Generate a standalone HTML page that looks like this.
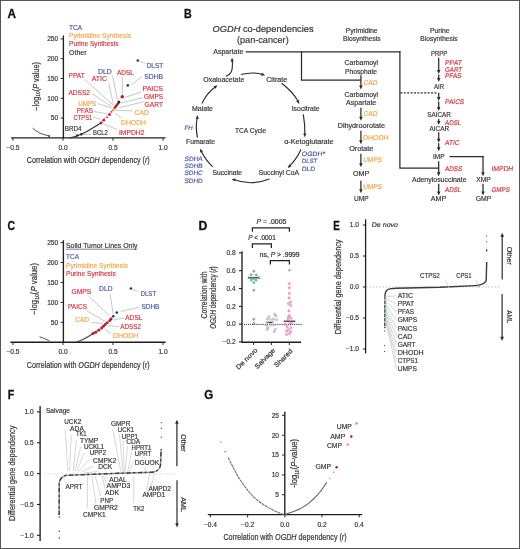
<!DOCTYPE html>
<html><head><meta charset="utf-8"><style>
html,body{margin:0;padding:0;background:#fff;}
body{width:520px;height:549px;overflow:hidden;}
svg{display:block;font-family:"Liberation Sans", sans-serif;will-change:transform;}
</style></head><body>
<svg width="520" height="549" viewBox="0 0 520 549">
<rect x="0.5" y="0.5" width="519" height="548" fill="#fff" stroke="#555" stroke-width="1"/>
<line x1="63.40" y1="35.50" x2="63.40" y2="138.50" stroke="#1e1e1e" stroke-width="1.35" />
<line x1="11.00" y1="137.90" x2="165.50" y2="137.90" stroke="#1e1e1e" stroke-width="1.4" />
<line x1="60.60" y1="118.10" x2="63.40" y2="118.10" stroke="#2b2b2b" stroke-width="1.0" />
<text x="58.20" y="120.40" font-size="6.6" fill="#333333" text-anchor="end" stroke="#333333" stroke-width="0.16">50</text>
<line x1="60.60" y1="98.30" x2="63.40" y2="98.30" stroke="#2b2b2b" stroke-width="1.0" />
<text x="58.20" y="100.60" font-size="6.6" fill="#333333" text-anchor="end" stroke="#333333" stroke-width="0.16">100</text>
<line x1="60.60" y1="78.50" x2="63.40" y2="78.50" stroke="#2b2b2b" stroke-width="1.0" />
<text x="58.20" y="80.80" font-size="6.6" fill="#333333" text-anchor="end" stroke="#333333" stroke-width="0.16">150</text>
<line x1="60.60" y1="58.70" x2="63.40" y2="58.70" stroke="#2b2b2b" stroke-width="1.0" />
<text x="58.20" y="61.00" font-size="6.6" fill="#333333" text-anchor="end" stroke="#333333" stroke-width="0.16">200</text>
<line x1="60.60" y1="38.90" x2="63.40" y2="38.90" stroke="#2b2b2b" stroke-width="1.0" />
<text x="58.20" y="41.20" font-size="6.6" fill="#333333" text-anchor="end" stroke="#333333" stroke-width="0.16">250</text>
<line x1="13.00" y1="137.90" x2="13.00" y2="140.70" stroke="#2b2b2b" stroke-width="1.0" />
<text x="13.00" y="150.20" font-size="6.6" fill="#333333" text-anchor="middle" stroke="#333333" stroke-width="0.16">−0.5</text>
<line x1="63.00" y1="137.90" x2="63.00" y2="140.70" stroke="#2b2b2b" stroke-width="1.0" />
<text x="63.00" y="150.20" font-size="6.6" fill="#333333" text-anchor="middle" stroke="#333333" stroke-width="0.16">0.0</text>
<line x1="113.00" y1="137.90" x2="113.00" y2="140.70" stroke="#2b2b2b" stroke-width="1.0" />
<text x="113.00" y="150.20" font-size="6.6" fill="#333333" text-anchor="middle" stroke="#333333" stroke-width="0.16">0.5</text>
<line x1="163.00" y1="137.90" x2="163.00" y2="140.70" stroke="#2b2b2b" stroke-width="1.0" />
<text x="163.00" y="150.20" font-size="6.6" fill="#333333" text-anchor="middle" stroke="#333333" stroke-width="0.16">1.0</text>
<text x="26.8" y="163.3" font-size="9.4" fill="#333333" textLength="122.9" lengthAdjust="spacingAndGlyphs" stroke="#333333" stroke-width="0.2">Correlation with <tspan font-style="italic">OGDH</tspan> dependency (<tspan font-style="italic">r</tspan>)</text>
<text transform="translate(38.6,110.7) rotate(-90)" font-size="8.2" fill="#333333" textLength="48.6" lengthAdjust="spacingAndGlyphs" stroke="#333333" stroke-width="0.2">−log<tspan font-size="5.5" dy="1.8">10</tspan><tspan dy="-1.8">(</tspan><tspan font-style="italic">P</tspan> value)</text>
<text transform="translate(7.51,17.70) scale(0.965,1)" font-size="12.2" font-weight="bold" fill="#111" stroke="#111" stroke-width="0.3">A</text>
<text x="69.10" y="29.60" font-size="7.2" fill="#4a56a0" textLength="13.10" lengthAdjust="spacingAndGlyphs" stroke="#4a56a0" stroke-width="0.16">TCA</text>
<text x="69.10" y="38.00" font-size="7.2" fill="#f0a544" textLength="61.90" lengthAdjust="spacingAndGlyphs" stroke="#f0a544" stroke-width="0.16">Pyrimidine Synthesis</text>
<text x="69.10" y="46.40" font-size="7.2" fill="#d2323f" textLength="49.40" lengthAdjust="spacingAndGlyphs" stroke="#d2323f" stroke-width="0.16">Purine Synthesis</text>
<text x="69.10" y="54.50" font-size="7.2" fill="#333333" textLength="17.40" lengthAdjust="spacingAndGlyphs" stroke="#333333" stroke-width="0.16">Other</text>
<path d="M32.5,128.1 Q39.4,134.3 48.8,135.7" stroke="#555" stroke-width="1.0" fill="none" />
<path d="M69,138 Q75,137.2 81.3,134.3 Q90,130 96,126 Q99,124 101.2,122.7" stroke="#333" stroke-width="1.2" fill="none" />
<path d="M101.2,122.7 L118.9,102.1" stroke="#e8a0a8" stroke-width="0.8" fill="none" />
<circle cx="49.10" cy="136.10" r="1.1" fill="#4a5080" />
<circle cx="77.20" cy="135.40" r="1.2" fill="#222" />
<circle cx="81.30" cy="134.30" r="1.2" fill="#222" />
<line x1="145.50" y1="63.50" x2="139.50" y2="61.00" stroke="#9aa3ad" stroke-width="0.6" />
<line x1="142.00" y1="76.50" x2="131.60" y2="84.70" stroke="#9aa3ad" stroke-width="0.6" />
<line x1="112.50" y1="75.40" x2="117.50" y2="100.10" stroke="#9aa3ad" stroke-width="0.6" />
<line x1="122.30" y1="77.00" x2="122.30" y2="95.00" stroke="#9aa3ad" stroke-width="0.6" />
<line x1="84.60" y1="79.50" x2="113.20" y2="105.10" stroke="#9aa3ad" stroke-width="0.6" />
<line x1="108.70" y1="83.00" x2="113.50" y2="104.50" stroke="#9aa3ad" stroke-width="0.6" />
<line x1="92.00" y1="93.80" x2="111.80" y2="106.50" stroke="#9aa3ad" stroke-width="0.6" />
<line x1="141.00" y1="92.00" x2="125.00" y2="97.40" stroke="#9aa3ad" stroke-width="0.6" />
<line x1="143.00" y1="97.60" x2="120.60" y2="103.10" stroke="#9aa3ad" stroke-width="0.6" />
<line x1="143.50" y1="101.80" x2="118.90" y2="107.80" stroke="#9aa3ad" stroke-width="0.6" />
<line x1="97.50" y1="103.60" x2="111.50" y2="107.80" stroke="#9aa3ad" stroke-width="0.6" />
<line x1="133.00" y1="111.00" x2="115.20" y2="110.20" stroke="#9aa3ad" stroke-width="0.6" />
<line x1="94.00" y1="111.50" x2="107.30" y2="113.80" stroke="#9aa3ad" stroke-width="0.6" />
<line x1="93.00" y1="116.80" x2="100.40" y2="119.60" stroke="#9aa3ad" stroke-width="0.6" />
<line x1="121.20" y1="117.70" x2="114.60" y2="113.10" stroke="#9aa3ad" stroke-width="0.6" />
<line x1="117.30" y1="129.60" x2="102.70" y2="123.50" stroke="#9aa3ad" stroke-width="0.6" />
<line x1="73.00" y1="132.00" x2="77.20" y2="135.00" stroke="#9aa3ad" stroke-width="0.6" />
<line x1="91.50" y1="134.20" x2="82.50" y2="134.30" stroke="#9aa3ad" stroke-width="0.6" />
<circle cx="101.10" cy="123.00" r="1.4" fill="#b3202e" />
<circle cx="103.80" cy="120.20" r="1.4" fill="#b3202e" />
<circle cx="107.10" cy="117.30" r="0.9" fill="#d2323f" />
<circle cx="109.50" cy="114.60" r="1.4" fill="#b3202e" />
<circle cx="111.50" cy="111.90" r="0.9" fill="#d2323f" />
<path d="M114.9,107.5 L117.9,103.8" stroke="#b3202e" stroke-width="2.6" fill="none" stroke-linecap="round"/>
<circle cx="113.20" cy="109.90" r="1.5" fill="#f0a544" />
<circle cx="118.90" cy="102.10" r="1.5" fill="#1f2048" />
<circle cx="122.30" cy="96.80" r="1.8" fill="#b3202e" />
<circle cx="127.80" cy="85.40" r="1.3" fill="#2c3470" />
<circle cx="137.80" cy="60.50" r="1.3" fill="#2c3470" />
<text x="146.70" y="67.80" font-size="6.9" fill="#4a56a0" textLength="16.50" lengthAdjust="spacingAndGlyphs" stroke="#4a56a0" stroke-width="0.16">DLST</text>
<text x="144.20" y="79.00" font-size="6.9" fill="#4a56a0" textLength="19.00" lengthAdjust="spacingAndGlyphs" stroke="#4a56a0" stroke-width="0.16">SDHB</text>
<text x="98.00" y="73.50" font-size="6.9" fill="#4a56a0" textLength="13.80" lengthAdjust="spacingAndGlyphs" stroke="#4a56a0" stroke-width="0.16">DLD</text>
<text x="117.00" y="74.60" font-size="6.9" fill="#d2323f" textLength="17.00" lengthAdjust="spacingAndGlyphs" stroke="#d2323f" stroke-width="0.16">ADSL</text>
<text x="68.50" y="77.80" font-size="6.9" fill="#d2323f" textLength="16.20" lengthAdjust="spacingAndGlyphs" stroke="#d2323f" stroke-width="0.16">PPAT</text>
<text x="91.70" y="80.90" font-size="6.9" fill="#d2323f" textLength="15.30" lengthAdjust="spacingAndGlyphs" stroke="#d2323f" stroke-width="0.16">ATIC</text>
<text x="68.50" y="95.00" font-size="6.9" fill="#d2323f" textLength="21.50" lengthAdjust="spacingAndGlyphs" stroke="#d2323f" stroke-width="0.16">ADSS2</text>
<text x="142.50" y="91.20" font-size="6.9" fill="#d2323f" textLength="20.50" lengthAdjust="spacingAndGlyphs" stroke="#d2323f" stroke-width="0.16">PAICS</text>
<text x="144.00" y="99.20" font-size="6.9" fill="#d2323f" textLength="19.00" lengthAdjust="spacingAndGlyphs" stroke="#d2323f" stroke-width="0.16">GMPS</text>
<text x="144.60" y="106.80" font-size="6.9" fill="#d2323f" textLength="18.40" lengthAdjust="spacingAndGlyphs" stroke="#d2323f" stroke-width="0.16">GART</text>
<text x="78.20" y="105.50" font-size="6.9" fill="#f0a544" textLength="18.10" lengthAdjust="spacingAndGlyphs" stroke="#f0a544" stroke-width="0.16">UMPS</text>
<text x="134.50" y="114.50" font-size="6.9" fill="#f0a544" textLength="14.30" lengthAdjust="spacingAndGlyphs" stroke="#f0a544" stroke-width="0.16">CAD</text>
<text x="76.80" y="112.80" font-size="6.9" fill="#d2323f" textLength="16.20" lengthAdjust="spacingAndGlyphs" stroke="#d2323f" stroke-width="0.16">PFAS</text>
<text x="73.50" y="119.90" font-size="6.9" fill="#d2323f" textLength="18.80" lengthAdjust="spacingAndGlyphs" stroke="#d2323f" stroke-width="0.16">CTPS1</text>
<text x="121.00" y="124.80" font-size="6.9" fill="#f0a544" textLength="25.00" lengthAdjust="spacingAndGlyphs" stroke="#f0a544" stroke-width="0.16">DHODH</text>
<text x="119.00" y="134.90" font-size="6.9" fill="#d2323f" textLength="25.40" lengthAdjust="spacingAndGlyphs" stroke="#d2323f" stroke-width="0.16">IMPDH2</text>
<text x="64.70" y="131.10" font-size="6.9" fill="#333333" textLength="16.80" lengthAdjust="spacingAndGlyphs" stroke="#333333" stroke-width="0.16">BRD4</text>
<text x="93.00" y="135.40" font-size="6.9" fill="#333333" textLength="14.80" lengthAdjust="spacingAndGlyphs" stroke="#333333" stroke-width="0.16">BCL2</text>
<text transform="translate(183.89,17.70) scale(0.873,1)" font-size="12.2" font-weight="bold" fill="#111" stroke="#111" stroke-width="0.3">B</text>
<text x="212.5" y="32.2" font-size="9.6" fill="#333333" textLength="101.1" lengthAdjust="spacingAndGlyphs" stroke="#333333" stroke-width="0.2"><tspan font-style="italic">OGDH</tspan> co-dependencies</text>
<text x="237.00" y="42.60" font-size="9.6" fill="#333333" textLength="51.70" lengthAdjust="spacingAndGlyphs" stroke="#333333" stroke-width="0.16">(pan-cancer)</text>
<text x="213.30" y="53.80" font-size="6.3" fill="#333333" textLength="30.00" lengthAdjust="spacingAndGlyphs" stroke="#333333" stroke-width="0.16">Aspartate</text>
<text x="203.30" y="82.00" font-size="6.3" fill="#333333" textLength="41.00" lengthAdjust="spacingAndGlyphs" stroke="#333333" stroke-width="0.16">Oxaloacetate</text>
<text x="266.20" y="81.90" font-size="6.3" fill="#333333" textLength="21.00" lengthAdjust="spacingAndGlyphs" stroke="#333333" stroke-width="0.16">Citrate</text>
<text x="192.00" y="110.60" font-size="6.3" fill="#333333" textLength="21.00" lengthAdjust="spacingAndGlyphs" stroke="#333333" stroke-width="0.16">Malate</text>
<text x="291.70" y="110.60" font-size="6.3" fill="#333333" textLength="28.00" lengthAdjust="spacingAndGlyphs" stroke="#333333" stroke-width="0.16">Isocitrate</text>
<text x="235.00" y="132.50" font-size="6.3" fill="#333333" textLength="31.20" lengthAdjust="spacingAndGlyphs" stroke="#333333" stroke-width="0.16">TCA Cycle</text>
<text x="186.00" y="144.20" font-size="6.3" fill="#333333" textLength="29.00" lengthAdjust="spacingAndGlyphs" stroke="#333333" stroke-width="0.16">Fumarate</text>
<text x="284.20" y="143.70" font-size="6.3" fill="#333333" textLength="49.40" lengthAdjust="spacingAndGlyphs" stroke="#333333" stroke-width="0.16">α-Ketoglutarate</text>
<text x="212.50" y="174.50" font-size="6.3" fill="#333333" textLength="29.50" lengthAdjust="spacingAndGlyphs" stroke="#333333" stroke-width="0.16">Succinate</text>
<text x="258.80" y="174.70" font-size="6.3" fill="#333333" textLength="40.20" lengthAdjust="spacingAndGlyphs" stroke="#333333" stroke-width="0.16">Succinyl CoA</text>
<text transform="translate(184.20,130.00) skewX(-8)" font-size="6.3" fill="#4a56a0" textLength="8.20" lengthAdjust="spacingAndGlyphs" stroke="#4a56a0" stroke-width="0.16">FH</text>
<text transform="translate(184.30,160.60) skewX(-8)" font-size="6.3" fill="#4a56a0" textLength="18.20" lengthAdjust="spacingAndGlyphs" stroke="#4a56a0" stroke-width="0.16">SDHA</text>
<text transform="translate(184.30,167.90) skewX(-8)" font-size="6.3" fill="#4a56a0" textLength="18.20" lengthAdjust="spacingAndGlyphs" stroke="#4a56a0" stroke-width="0.16">SDHB</text>
<text transform="translate(184.30,175.20) skewX(-8)" font-size="6.3" fill="#4a56a0" textLength="18.20" lengthAdjust="spacingAndGlyphs" stroke="#4a56a0" stroke-width="0.16">SDHC</text>
<text transform="translate(184.30,182.50) skewX(-8)" font-size="6.3" fill="#4a56a0" textLength="18.20" lengthAdjust="spacingAndGlyphs" stroke="#4a56a0" stroke-width="0.16">SDHD</text>
<text transform="translate(301.50,156.30) skewX(-8)" font-size="6.3" fill="#4a56a0" textLength="23.50" lengthAdjust="spacingAndGlyphs" stroke="#4a56a0" stroke-width="0.16">OGDH*</text>
<text transform="translate(301.50,163.40) skewX(-8)" font-size="6.3" fill="#4a56a0" textLength="15.50" lengthAdjust="spacingAndGlyphs" stroke="#4a56a0" stroke-width="0.16">DLST</text>
<text transform="translate(301.50,170.50) skewX(-8)" font-size="6.3" fill="#4a56a0" textLength="13.50" lengthAdjust="spacingAndGlyphs" stroke="#4a56a0" stroke-width="0.16">DLD</text>
<path d="M226,76.3 C231,74.5 233,71 232.3,61" stroke="#2b2b2b" stroke-width="1.15" fill="none" />
<path d="M232.00,57.80 L233.80,61.39 L230.58,61.56 Z" fill="#2b2b2b"/>
<path d="M241,74.5 Q253,71.5 262.8,74.4" stroke="#2b2b2b" stroke-width="1.15" fill="none" />
<path d="M265.20,75.30 L261.20,75.69 L262.20,72.63 Z" fill="#2b2b2b"/>
<path d="M281.6,83.3 Q293,92 298.0,101.2" stroke="#2b2b2b" stroke-width="1.15" fill="none" />
<path d="M299.20,104.00 L296.19,101.35 L299.10,99.98 Z" fill="#2b2b2b"/>
<path d="M303.3,114.3 Q305.2,125 304.8,134.5" stroke="#2b2b2b" stroke-width="1.15" fill="none" />
<path d="M304.70,137.20 L303.22,133.47 L306.44,133.58 Z" fill="#2b2b2b"/>
<path d="M301,149.5 Q296,160 289.7,165.8" stroke="#2b2b2b" stroke-width="1.15" fill="none" />
<path d="M287.70,168.00 L289.16,164.26 L291.44,166.54 Z" fill="#2b2b2b"/>
<path d="M269.4,179.0 Q251,186 234.5,179.8" stroke="#2b2b2b" stroke-width="1.15" fill="none" />
<path d="M231.70,178.90 L235.70,178.51 L234.70,181.57 Z" fill="#2b2b2b"/>
<path d="M212.7,166.9 Q205,159 201.4,151.4" stroke="#2b2b2b" stroke-width="1.15" fill="none" />
<path d="M200.20,148.60 L203.07,151.41 L200.09,152.62 Z" fill="#2b2b2b"/>
<path d="M197.5,137.7 Q195.3,127 197.2,118" stroke="#2b2b2b" stroke-width="1.15" fill="none" />
<path d="M197.50,115.10 L198.78,118.91 L195.58,118.63 Z" fill="#2b2b2b"/>
<path d="M201.9,103.4 Q207,93 215.2,87.0" stroke="#2b2b2b" stroke-width="1.15" fill="none" />
<path d="M217.50,85.20 L215.59,88.73 L213.61,86.20 Z" fill="#2b2b2b"/>
<text x="345.60" y="32.50" font-size="6.3" fill="#333333" textLength="32.10" lengthAdjust="spacingAndGlyphs" stroke="#333333" stroke-width="0.16">Pyrimidine</text>
<text x="343.00" y="40.80" font-size="6.3" fill="#333333" textLength="37.60" lengthAdjust="spacingAndGlyphs" stroke="#333333" stroke-width="0.16">Biosynthesis</text>
<text x="430.00" y="32.60" font-size="6.3" fill="#333333" textLength="19.50" lengthAdjust="spacingAndGlyphs" stroke="#333333" stroke-width="0.16">Purine</text>
<text x="420.30" y="40.70" font-size="6.3" fill="#333333" textLength="37.40" lengthAdjust="spacingAndGlyphs" stroke="#333333" stroke-width="0.16">Biosynthesis</text>
<text x="344.60" y="65.40" font-size="6.3" fill="#333333" textLength="33.40" lengthAdjust="spacingAndGlyphs" stroke="#333333" stroke-width="0.16">Carbamoyl</text>
<text x="345.00" y="73.50" font-size="6.3" fill="#333333" textLength="32.00" lengthAdjust="spacingAndGlyphs" stroke="#333333" stroke-width="0.16">Phosphate</text>
<text x="344.60" y="96.50" font-size="6.3" fill="#333333" textLength="33.40" lengthAdjust="spacingAndGlyphs" stroke="#333333" stroke-width="0.16">Carbamoyl</text>
<text x="346.00" y="105.20" font-size="6.3" fill="#333333" textLength="30.30" lengthAdjust="spacingAndGlyphs" stroke="#333333" stroke-width="0.16">Aspartate</text>
<text x="337.70" y="127.90" font-size="6.3" fill="#333333" textLength="47.30" lengthAdjust="spacingAndGlyphs" stroke="#333333" stroke-width="0.16">Dihydroorotate</text>
<text x="349.20" y="151.00" font-size="6.3" fill="#333333" textLength="24.10" lengthAdjust="spacingAndGlyphs" stroke="#333333" stroke-width="0.16">Orotate</text>
<text x="353.00" y="176.00" font-size="6.3" fill="#333333" textLength="16.40" lengthAdjust="spacingAndGlyphs" stroke="#333333" stroke-width="0.16">OMP</text>
<text x="354.00" y="201.00" font-size="6.3" fill="#333333" textLength="14.70" lengthAdjust="spacingAndGlyphs" stroke="#333333" stroke-width="0.16">UMP</text>
<text transform="translate(363.30,84.60) skewX(-8)" font-size="6.8" fill="#f0a544" textLength="14.00" lengthAdjust="spacingAndGlyphs" stroke="#f0a544" stroke-width="0.16">CAD</text>
<text transform="translate(363.30,116.30) skewX(-8)" font-size="6.8" fill="#f0a544" textLength="14.00" lengthAdjust="spacingAndGlyphs" stroke="#f0a544" stroke-width="0.16">CAD</text>
<text transform="translate(362.70,139.60) skewX(-8)" font-size="6.8" fill="#f0a544" textLength="25.60" lengthAdjust="spacingAndGlyphs" stroke="#f0a544" stroke-width="0.16">DHODH</text>
<text transform="translate(363.00,161.50) skewX(-8)" font-size="6.8" fill="#f0a544" textLength="18.50" lengthAdjust="spacingAndGlyphs" stroke="#f0a544" stroke-width="0.16">UMPS</text>
<text transform="translate(363.00,188.70) skewX(-8)" font-size="6.8" fill="#f0a544" textLength="18.50" lengthAdjust="spacingAndGlyphs" stroke="#f0a544" stroke-width="0.16">UMPS</text>
<line x1="245.70" y1="51.90" x2="400.50" y2="51.90" stroke="#2b2b2b" stroke-width="1.25" />
<line x1="399.90" y1="51.30" x2="399.90" y2="168.00" stroke="#2b2b2b" stroke-width="1.25" />
<line x1="399.30" y1="168.00" x2="438.80" y2="168.00" stroke="#2b2b2b" stroke-width="1.25" />
<line x1="301.50" y1="51.30" x2="301.50" y2="80.00" stroke="#2b2b2b" stroke-width="1.25" />
<line x1="300.90" y1="80.00" x2="361.00" y2="80.00" stroke="#2b2b2b" stroke-width="1.25" />
<line x1="360.90" y1="76.00" x2="360.90" y2="86.90" stroke="#2b2b2b" stroke-width="1.25" />
<path d="M360.90,89.40 L359.15,85.40 L362.65,85.40 Z" fill="#2b2b2b"/>
<line x1="360.90" y1="107.70" x2="360.90" y2="118.30" stroke="#2b2b2b" stroke-width="1.25" />
<path d="M360.90,120.80 L359.15,116.80 L362.65,116.80 Z" fill="#2b2b2b"/>
<line x1="360.90" y1="130.80" x2="360.90" y2="141.70" stroke="#2b2b2b" stroke-width="1.25" />
<path d="M360.90,144.20 L359.15,140.20 L362.65,140.20 Z" fill="#2b2b2b"/>
<line x1="360.90" y1="153.80" x2="360.90" y2="164.80" stroke="#2b2b2b" stroke-width="1.25" />
<path d="M360.90,167.30 L359.15,163.30 L362.65,163.30 Z" fill="#2b2b2b"/>
<line x1="360.90" y1="180.80" x2="360.90" y2="190.80" stroke="#2b2b2b" stroke-width="1.25" />
<path d="M360.90,193.30 L359.15,189.30 L362.65,189.30 Z" fill="#2b2b2b"/>
<line x1="400.40" y1="92.90" x2="437.60" y2="92.90" stroke="#2b2b2b" stroke-width="1.2" stroke-dasharray="2,1.4"/>
<text x="430.90" y="55.60" font-size="6.3" fill="#333333" textLength="16.30" lengthAdjust="spacingAndGlyphs" stroke="#333333" stroke-width="0.16">PRPP</text>
<text x="434.00" y="88.70" font-size="6.3" fill="#333333" textLength="10.00" lengthAdjust="spacingAndGlyphs" stroke="#333333" stroke-width="0.16">AIR</text>
<text x="427.20" y="117.30" font-size="6.3" fill="#333333" textLength="23.60" lengthAdjust="spacingAndGlyphs" stroke="#333333" stroke-width="0.16">SAICAR</text>
<text x="429.50" y="131.20" font-size="6.3" fill="#333333" textLength="19.50" lengthAdjust="spacingAndGlyphs" stroke="#333333" stroke-width="0.16">AICAR</text>
<text x="433.00" y="158.80" font-size="6.3" fill="#333333" textLength="11.50" lengthAdjust="spacingAndGlyphs" stroke="#333333" stroke-width="0.16">IMP</text>
<text x="412.00" y="182.00" font-size="6.3" fill="#333333" textLength="54.50" lengthAdjust="spacingAndGlyphs" stroke="#333333" stroke-width="0.16">Adenylosuccinate</text>
<text x="476.20" y="182.00" font-size="6.3" fill="#333333" textLength="14.50" lengthAdjust="spacingAndGlyphs" stroke="#333333" stroke-width="0.16">XMP</text>
<text x="430.70" y="200.50" font-size="6.3" fill="#333333" textLength="15.50" lengthAdjust="spacingAndGlyphs" stroke="#333333" stroke-width="0.16">AMP</text>
<text x="475.70" y="200.50" font-size="6.3" fill="#333333" textLength="15.50" lengthAdjust="spacingAndGlyphs" stroke="#333333" stroke-width="0.16">GMP</text>
<text transform="translate(444.80,64.80) skewX(-8)" font-size="6.8" fill="#d2323f" textLength="16.90" lengthAdjust="spacingAndGlyphs" stroke="#d2323f" stroke-width="0.16">PPAT</text>
<text transform="translate(444.80,71.60) skewX(-8)" font-size="6.8" fill="#d2323f" textLength="16.90" lengthAdjust="spacingAndGlyphs" stroke="#d2323f" stroke-width="0.16">GART</text>
<text transform="translate(444.80,78.40) skewX(-8)" font-size="6.8" fill="#d2323f" textLength="16.40" lengthAdjust="spacingAndGlyphs" stroke="#d2323f" stroke-width="0.16">PFAS</text>
<text transform="translate(444.80,104.20) skewX(-8)" font-size="6.8" fill="#d2323f" textLength="19.20" lengthAdjust="spacingAndGlyphs" stroke="#d2323f" stroke-width="0.16">PAICS</text>
<text transform="translate(444.80,124.70) skewX(-8)" font-size="6.8" fill="#d2323f" textLength="16.20" lengthAdjust="spacingAndGlyphs" stroke="#d2323f" stroke-width="0.16">ADSL</text>
<text transform="translate(444.80,144.90) skewX(-8)" font-size="6.8" fill="#d2323f" textLength="14.50" lengthAdjust="spacingAndGlyphs" stroke="#d2323f" stroke-width="0.16">ATIC</text>
<text transform="translate(444.80,170.90) skewX(-8)" font-size="6.8" fill="#d2323f" textLength="17.30" lengthAdjust="spacingAndGlyphs" stroke="#d2323f" stroke-width="0.16">ADSS</text>
<text transform="translate(444.80,191.70) skewX(-8)" font-size="6.8" fill="#d2323f" textLength="16.20" lengthAdjust="spacingAndGlyphs" stroke="#d2323f" stroke-width="0.16">ADSL</text>
<text transform="translate(491.20,170.90) skewX(-8)" font-size="6.8" fill="#d2323f" textLength="21.80" lengthAdjust="spacingAndGlyphs" stroke="#d2323f" stroke-width="0.16">IMPDH</text>
<text transform="translate(491.20,191.70) skewX(-8)" font-size="6.8" fill="#d2323f" textLength="18.40" lengthAdjust="spacingAndGlyphs" stroke="#d2323f" stroke-width="0.16">GMPS</text>
<line x1="438.70" y1="57.80" x2="438.70" y2="71.40" stroke="#2b2b2b" stroke-width="1.25" />
<path d="M438.70,73.90 L436.95,69.90 L440.45,69.90 Z" fill="#2b2b2b"/>
<line x1="438.70" y1="74.50" x2="438.70" y2="79.50" stroke="#2b2b2b" stroke-width="1.25" />
<path d="M438.70,82.00 L436.95,78.00 L440.45,78.00 Z" fill="#2b2b2b"/>
<line x1="438.70" y1="92.80" x2="438.70" y2="98.40" stroke="#2b2b2b" stroke-width="1.25" />
<path d="M438.70,100.90 L436.95,96.90 L440.45,96.90 Z" fill="#2b2b2b"/>
<line x1="438.70" y1="101.50" x2="438.70" y2="108.50" stroke="#2b2b2b" stroke-width="1.25" />
<path d="M438.70,111.00 L436.95,107.00 L440.45,107.00 Z" fill="#2b2b2b"/>
<line x1="438.70" y1="118.90" x2="438.70" y2="122.40" stroke="#2b2b2b" stroke-width="1.25" />
<path d="M438.70,124.90 L436.95,120.90 L440.45,120.90 Z" fill="#2b2b2b"/>
<line x1="438.70" y1="132.30" x2="438.70" y2="140.20" stroke="#2b2b2b" stroke-width="1.25" />
<path d="M438.70,142.70 L436.95,138.70 L440.45,138.70 Z" fill="#2b2b2b"/>
<line x1="438.70" y1="143.20" x2="438.70" y2="148.70" stroke="#2b2b2b" stroke-width="1.25" />
<path d="M438.70,151.20 L436.95,147.20 L440.45,147.20 Z" fill="#2b2b2b"/>
<line x1="438.70" y1="161.20" x2="438.70" y2="173.70" stroke="#2b2b2b" stroke-width="1.25" />
<path d="M438.70,176.20 L436.95,172.20 L440.45,172.20 Z" fill="#2b2b2b"/>
<line x1="438.70" y1="183.80" x2="438.70" y2="193.10" stroke="#2b2b2b" stroke-width="1.25" />
<path d="M438.70,195.60 L436.95,191.60 L440.45,191.60 Z" fill="#2b2b2b"/>
<line x1="449.60" y1="156.50" x2="483.60" y2="156.50" stroke="#2b2b2b" stroke-width="1.25" />
<line x1="483.00" y1="155.90" x2="483.00" y2="173.70" stroke="#2b2b2b" stroke-width="1.25" />
<path d="M483.00,176.20 L481.25,172.20 L484.75,172.20 Z" fill="#2b2b2b"/>
<line x1="483.00" y1="183.80" x2="483.00" y2="193.10" stroke="#2b2b2b" stroke-width="1.25" />
<path d="M483.00,195.60 L481.25,191.60 L484.75,191.60 Z" fill="#2b2b2b"/>
<text transform="translate(7.57,229.60) scale(0.865,1)" font-size="12.2" font-weight="bold" fill="#111" stroke="#111" stroke-width="0.3">C</text>
<line x1="63.40" y1="240.20" x2="63.40" y2="342.80" stroke="#1e1e1e" stroke-width="1.35" />
<line x1="10.50" y1="342.20" x2="165.50" y2="342.20" stroke="#1e1e1e" stroke-width="1.4" />
<line x1="60.60" y1="322.29" x2="63.40" y2="322.29" stroke="#2b2b2b" stroke-width="1.0" />
<text x="58.20" y="324.59" font-size="6.6" fill="#333333" text-anchor="end" stroke="#333333" stroke-width="0.16">50</text>
<line x1="60.60" y1="302.38" x2="63.40" y2="302.38" stroke="#2b2b2b" stroke-width="1.0" />
<text x="58.20" y="304.68" font-size="6.6" fill="#333333" text-anchor="end" stroke="#333333" stroke-width="0.16">100</text>
<line x1="60.60" y1="282.47" x2="63.40" y2="282.47" stroke="#2b2b2b" stroke-width="1.0" />
<text x="58.20" y="284.77" font-size="6.6" fill="#333333" text-anchor="end" stroke="#333333" stroke-width="0.16">150</text>
<line x1="60.60" y1="262.56" x2="63.40" y2="262.56" stroke="#2b2b2b" stroke-width="1.0" />
<text x="58.20" y="264.86" font-size="6.6" fill="#333333" text-anchor="end" stroke="#333333" stroke-width="0.16">200</text>
<line x1="60.60" y1="242.65" x2="63.40" y2="242.65" stroke="#2b2b2b" stroke-width="1.0" />
<text x="58.20" y="244.95" font-size="6.6" fill="#333333" text-anchor="end" stroke="#333333" stroke-width="0.16">250</text>
<line x1="13.00" y1="342.20" x2="13.00" y2="345.00" stroke="#2b2b2b" stroke-width="1.0" />
<text x="13.00" y="354.20" font-size="6.6" fill="#333333" text-anchor="middle" stroke="#333333" stroke-width="0.16">−0.5</text>
<line x1="63.00" y1="342.20" x2="63.00" y2="345.00" stroke="#2b2b2b" stroke-width="1.0" />
<text x="63.00" y="354.20" font-size="6.6" fill="#333333" text-anchor="middle" stroke="#333333" stroke-width="0.16">0.0</text>
<line x1="113.00" y1="342.20" x2="113.00" y2="345.00" stroke="#2b2b2b" stroke-width="1.0" />
<text x="113.00" y="354.20" font-size="6.6" fill="#333333" text-anchor="middle" stroke="#333333" stroke-width="0.16">0.5</text>
<line x1="163.00" y1="342.20" x2="163.00" y2="345.00" stroke="#2b2b2b" stroke-width="1.0" />
<text x="163.00" y="354.20" font-size="6.6" fill="#333333" text-anchor="middle" stroke="#333333" stroke-width="0.16">1.0</text>
<text x="26.8" y="367.7" font-size="9.4" fill="#333333" textLength="122.9" lengthAdjust="spacingAndGlyphs" stroke="#333333" stroke-width="0.2">Correlation with <tspan font-style="italic">OGDH</tspan> dependency (r)</text>
<text transform="translate(37.4,314.8) rotate(-90)" font-size="8.4" fill="#333333" textLength="51.8" lengthAdjust="spacingAndGlyphs" stroke="#333333" stroke-width="0.2">−log<tspan font-size="5.5" dy="1.8">10</tspan><tspan dy="-1.8">(</tspan><tspan font-style="italic">P</tspan> value)</text>
<text x="66.00" y="248.00" font-size="7.2" fill="#333333" textLength="71.40" lengthAdjust="spacingAndGlyphs" stroke="#333333" stroke-width="0.16">Solid Tumor Lines Only</text>
<line x1="66.00" y1="249.20" x2="137.40" y2="249.20" stroke="#333333" stroke-width="0.6" />
<text x="66.00" y="259.40" font-size="7.2" fill="#4a56a0" textLength="13.00" lengthAdjust="spacingAndGlyphs" stroke="#4a56a0" stroke-width="0.16">TCA</text>
<text x="66.00" y="268.00" font-size="7.2" fill="#f0a544" textLength="62.00" lengthAdjust="spacingAndGlyphs" stroke="#f0a544" stroke-width="0.16">Pyrimidine Synthesis</text>
<text x="66.00" y="276.30" font-size="7.2" fill="#d2323f" textLength="49.70" lengthAdjust="spacingAndGlyphs" stroke="#d2323f" stroke-width="0.16">Purine Synthesis</text>
<path d="M39.5,336.8 Q45,338.5 49.3,340.8" stroke="#555" stroke-width="1.0" fill="none" />
<path d="M76,342.2 Q84,340 93,333.6 L99,330.1" stroke="#444" stroke-width="1.2" fill="none" />
<line x1="137.50" y1="291.80" x2="132.60" y2="289.00" stroke="#9aa3ad" stroke-width="0.6" />
<line x1="139.30" y1="307.20" x2="120.70" y2="311.50" stroke="#9aa3ad" stroke-width="0.6" />
<line x1="110.10" y1="293.80" x2="113.20" y2="314.50" stroke="#9aa3ad" stroke-width="0.6" />
<line x1="88.50" y1="296.00" x2="109.00" y2="315.40" stroke="#9aa3ad" stroke-width="0.6" />
<line x1="86.50" y1="310.60" x2="105.10" y2="321.40" stroke="#9aa3ad" stroke-width="0.6" />
<line x1="91.50" y1="322.60" x2="102.90" y2="323.30" stroke="#9aa3ad" stroke-width="0.6" />
<line x1="124.50" y1="317.80" x2="113.70" y2="320.10" stroke="#9aa3ad" stroke-width="0.6" />
<line x1="119.00" y1="326.60" x2="108.50" y2="325.80" stroke="#9aa3ad" stroke-width="0.6" />
<line x1="110.70" y1="333.50" x2="105.10" y2="329.20" stroke="#9aa3ad" stroke-width="0.6" />
<circle cx="93.00" cy="333.60" r="1.5" fill="#b3202e" />
<circle cx="95.60" cy="332.20" r="1.5" fill="#b3202e" />
<circle cx="99.00" cy="329.90" r="1.5" fill="#b3202e" />
<circle cx="101.60" cy="327.90" r="1.5" fill="#b3202e" />
<circle cx="103.40" cy="326.20" r="1.5" fill="#b3202e" />
<circle cx="105.10" cy="324.50" r="1.5" fill="#b3202e" />
<circle cx="107.20" cy="322.70" r="1.5" fill="#b3202e" />
<circle cx="109.80" cy="320.60" r="1.5" fill="#b3202e" />
<circle cx="111.10" cy="318.80" r="1.5" fill="#b3202e" />
<circle cx="113.30" cy="316.20" r="1.3" fill="#2c3470" />
<circle cx="116.80" cy="312.60" r="1.3" fill="#2c3470" />
<circle cx="130.90" cy="288.50" r="1.3" fill="#2c3470" />
<text x="140.40" y="295.90" font-size="6.9" fill="#4a56a0" textLength="15.90" lengthAdjust="spacingAndGlyphs" stroke="#4a56a0" stroke-width="0.16">DLST</text>
<text x="141.40" y="309.20" font-size="6.9" fill="#4a56a0" textLength="18.00" lengthAdjust="spacingAndGlyphs" stroke="#4a56a0" stroke-width="0.16">SDHB</text>
<text x="99.10" y="291.00" font-size="6.9" fill="#4a56a0" textLength="13.40" lengthAdjust="spacingAndGlyphs" stroke="#4a56a0" stroke-width="0.16">DLD</text>
<text x="71.60" y="293.80" font-size="6.9" fill="#d2323f" textLength="19.70" lengthAdjust="spacingAndGlyphs" stroke="#d2323f" stroke-width="0.16">GMPS</text>
<text x="68.00" y="308.60" font-size="6.9" fill="#d2323f" textLength="19.10" lengthAdjust="spacingAndGlyphs" stroke="#d2323f" stroke-width="0.16">PAICS</text>
<text x="75.20" y="322.30" font-size="6.9" fill="#f0a544" textLength="13.80" lengthAdjust="spacingAndGlyphs" stroke="#f0a544" stroke-width="0.16">CAD</text>
<text x="125.20" y="320.20" font-size="6.9" fill="#d2323f" textLength="17.30" lengthAdjust="spacingAndGlyphs" stroke="#d2323f" stroke-width="0.16">ADSL</text>
<text x="120.30" y="328.70" font-size="6.9" fill="#d2323f" textLength="20.70" lengthAdjust="spacingAndGlyphs" stroke="#d2323f" stroke-width="0.16">ADSS2</text>
<text x="112.90" y="338.20" font-size="6.9" fill="#f0a544" textLength="25.40" lengthAdjust="spacingAndGlyphs" stroke="#f0a544" stroke-width="0.16">DHODH</text>
<text transform="translate(198.58,229.60) scale(1.003,1)" font-size="12.2" font-weight="bold" fill="#111" stroke="#111" stroke-width="0.3">D</text>
<line x1="242.00" y1="251.30" x2="242.00" y2="342.60" stroke="#1e1e1e" stroke-width="1.35" />
<line x1="241.40" y1="342.20" x2="301.00" y2="342.20" stroke="#1e1e1e" stroke-width="1.4" />
<line x1="238.90" y1="252.90" x2="242.00" y2="252.90" stroke="#1e1e1e" stroke-width="1.1" />
<text x="235.60" y="255.20" font-size="6.6" fill="#333333" text-anchor="end" stroke="#333333" stroke-width="0.16">0.8</text>
<line x1="238.90" y1="270.70" x2="242.00" y2="270.70" stroke="#1e1e1e" stroke-width="1.1" />
<text x="235.60" y="273.00" font-size="6.6" fill="#333333" text-anchor="end" stroke="#333333" stroke-width="0.16">0.6</text>
<line x1="238.90" y1="288.50" x2="242.00" y2="288.50" stroke="#1e1e1e" stroke-width="1.1" />
<text x="235.60" y="290.80" font-size="6.6" fill="#333333" text-anchor="end" stroke="#333333" stroke-width="0.16">0.4</text>
<line x1="238.90" y1="306.30" x2="242.00" y2="306.30" stroke="#1e1e1e" stroke-width="1.1" />
<text x="235.60" y="308.60" font-size="6.6" fill="#333333" text-anchor="end" stroke="#333333" stroke-width="0.16">0.2</text>
<line x1="238.90" y1="324.10" x2="242.00" y2="324.10" stroke="#1e1e1e" stroke-width="1.1" />
<text x="235.60" y="326.40" font-size="6.6" fill="#333333" text-anchor="end" stroke="#333333" stroke-width="0.16">0.0</text>
<line x1="238.90" y1="341.90" x2="242.00" y2="341.90" stroke="#1e1e1e" stroke-width="1.1" />
<text x="235.60" y="344.20" font-size="6.6" fill="#333333" text-anchor="end" stroke="#333333" stroke-width="0.16">−0.2</text>
<line x1="253.60" y1="342.20" x2="253.60" y2="345.00" stroke="#2b2b2b" stroke-width="1.0" />
<line x1="271.40" y1="342.20" x2="271.40" y2="345.00" stroke="#2b2b2b" stroke-width="1.0" />
<line x1="289.30" y1="342.20" x2="289.30" y2="345.00" stroke="#2b2b2b" stroke-width="1.0" />
<line x1="243.80" y1="324.40" x2="302.00" y2="324.40" stroke="#111" stroke-width="1.0" stroke-dasharray="1.0,1.1"/>
<text transform="translate(206.6,318.4) rotate(-90)" font-size="9.0" fill="#333333" textLength="46.8" lengthAdjust="spacingAndGlyphs" stroke="#333333" stroke-width="0.2">Correlation with</text>
<text transform="translate(215.6,328.7) rotate(-90)" font-size="9.0" fill="#333333" textLength="62.3" lengthAdjust="spacingAndGlyphs" stroke="#333333" stroke-width="0.2"><tspan font-style="italic">OGDH</tspan> dependency (<tspan font-style="italic">r</tspan>)</text>
<text transform="translate(238.5,370.0) rotate(-45)" font-size="6.6" fill="#333333" textLength="27.5" lengthAdjust="spacingAndGlyphs" stroke="#333333" stroke-width="0.2">De novo</text>
<text transform="translate(257.3,369.2) rotate(-45)" font-size="6.6" fill="#333333" textLength="26.0" lengthAdjust="spacingAndGlyphs" stroke="#333333" stroke-width="0.2">Salvage</text>
<text transform="translate(276.8,367.8) rotate(-45)" font-size="6.6" fill="#333333" textLength="23.0" lengthAdjust="spacingAndGlyphs" stroke="#333333" stroke-width="0.2">Shared</text>
<path d="M252.4,231.8 V227.9 H289.4 V231.8" stroke="#222" stroke-width="1.25" fill="none" />
<path d="M252.4,248.0 V243.9 H271.4 V248.0" stroke="#222" stroke-width="1.25" fill="none" />
<path d="M270.4,264.6 V260.6 H289.4 V264.6" stroke="#222" stroke-width="1.25" fill="none" />
<text x="256.6" y="224.4" font-size="6.6" fill="#333333" textLength="29.7" lengthAdjust="spacingAndGlyphs" stroke="#333333" stroke-width="0.2"><tspan font-style="italic">P</tspan> = .0005</text>
<text x="248.2" y="240.0" font-size="6.6" fill="#333333" textLength="27.5" lengthAdjust="spacingAndGlyphs" stroke="#333333" stroke-width="0.2"><tspan font-style="italic">P</tspan> &lt; .0001</text>
<text x="259.8" y="256.9" font-size="6.6" fill="#333333" textLength="39.8" lengthAdjust="spacingAndGlyphs" stroke="#333333" stroke-width="0.2">ns, <tspan font-style="italic">P</tspan> &gt; .9999</text>
<line x1="248.00" y1="277.80" x2="259.70" y2="277.80" stroke="#111" stroke-width="1.1" />
<line x1="266.20" y1="322.40" x2="272.80" y2="322.40" stroke="#111" stroke-width="1.1" />
<line x1="283.70" y1="321.20" x2="295.30" y2="321.20" stroke="#111" stroke-width="1.1" />
<circle cx="253.80" cy="271.20" r="1.05" fill="#7fbfa8" stroke="#3f8f78" stroke-width="0.55" fill-opacity="0.8"/>
<circle cx="251.20" cy="274.70" r="1.05" fill="#7fbfa8" stroke="#3f8f78" stroke-width="0.55" fill-opacity="0.8"/>
<circle cx="256.30" cy="275.00" r="1.05" fill="#7fbfa8" stroke="#3f8f78" stroke-width="0.55" fill-opacity="0.8"/>
<circle cx="249.00" cy="277.60" r="1.05" fill="#7fbfa8" stroke="#3f8f78" stroke-width="0.55" fill-opacity="0.8"/>
<circle cx="258.60" cy="277.60" r="1.05" fill="#7fbfa8" stroke="#3f8f78" stroke-width="0.55" fill-opacity="0.8"/>
<circle cx="253.80" cy="278.60" r="1.05" fill="#7fbfa8" stroke="#3f8f78" stroke-width="0.55" fill-opacity="0.8"/>
<circle cx="256.10" cy="280.20" r="1.05" fill="#7fbfa8" stroke="#3f8f78" stroke-width="0.55" fill-opacity="0.8"/>
<circle cx="251.40" cy="280.00" r="1.05" fill="#7fbfa8" stroke="#3f8f78" stroke-width="0.55" fill-opacity="0.8"/>
<circle cx="253.80" cy="282.60" r="1.05" fill="#7fbfa8" stroke="#3f8f78" stroke-width="0.55" fill-opacity="0.8"/>
<circle cx="253.80" cy="290.30" r="1.05" fill="#7fbfa8" stroke="#3f8f78" stroke-width="0.55" fill-opacity="0.8"/>
<circle cx="253.80" cy="319.30" r="1.05" fill="#7fbfa8" stroke="#3f8f78" stroke-width="0.55" fill-opacity="0.8"/>
<circle cx="253.80" cy="323.50" r="1.05" fill="#7fbfa8" stroke="#3f8f78" stroke-width="0.55" fill-opacity="0.8"/>
<circle cx="274.60" cy="314.30" r="1.05" fill="#d8d8d8" stroke="#999" stroke-width="0.55" fill-opacity="0.8"/>
<circle cx="276.10" cy="315.90" r="1.05" fill="#d8d8d8" stroke="#999" stroke-width="0.55" fill-opacity="0.8"/>
<circle cx="268.90" cy="316.60" r="1.05" fill="#d8d8d8" stroke="#999" stroke-width="0.55" fill-opacity="0.8"/>
<circle cx="267.40" cy="318.90" r="1.05" fill="#d8d8d8" stroke="#999" stroke-width="0.55" fill-opacity="0.8"/>
<circle cx="273.50" cy="318.90" r="1.05" fill="#d8d8d8" stroke="#999" stroke-width="0.55" fill-opacity="0.8"/>
<circle cx="276.50" cy="319.70" r="1.05" fill="#d8d8d8" stroke="#999" stroke-width="0.55" fill-opacity="0.8"/>
<circle cx="267.40" cy="322.40" r="1.05" fill="#d8d8d8" stroke="#999" stroke-width="0.55" fill-opacity="0.8"/>
<circle cx="272.70" cy="322.00" r="1.05" fill="#d8d8d8" stroke="#999" stroke-width="0.55" fill-opacity="0.8"/>
<circle cx="266.60" cy="325.40" r="1.05" fill="#d8d8d8" stroke="#999" stroke-width="0.55" fill-opacity="0.8"/>
<circle cx="270.40" cy="324.70" r="1.05" fill="#d8d8d8" stroke="#999" stroke-width="0.55" fill-opacity="0.8"/>
<circle cx="273.50" cy="325.00" r="1.05" fill="#d8d8d8" stroke="#999" stroke-width="0.55" fill-opacity="0.8"/>
<circle cx="268.10" cy="327.70" r="1.05" fill="#d8d8d8" stroke="#999" stroke-width="0.55" fill-opacity="0.8"/>
<circle cx="275.40" cy="329.30" r="1.05" fill="#d8d8d8" stroke="#999" stroke-width="0.55" fill-opacity="0.8"/>
<circle cx="267.00" cy="329.60" r="1.05" fill="#d8d8d8" stroke="#999" stroke-width="0.55" fill-opacity="0.8"/>
<circle cx="274.20" cy="331.60" r="1.05" fill="#d8d8d8" stroke="#999" stroke-width="0.55" fill-opacity="0.8"/>
<circle cx="270.50" cy="319.50" r="1.05" fill="#d8d8d8" stroke="#999" stroke-width="0.55" fill-opacity="0.8"/>
<circle cx="289.40" cy="270.20" r="1.05" fill="#f2a6c8" stroke="#e0609a" stroke-width="0.55" fill-opacity="0.8"/>
<circle cx="289.40" cy="283.70" r="1.05" fill="#f2a6c8" stroke="#e0609a" stroke-width="0.55" fill-opacity="0.8"/>
<circle cx="289.40" cy="287.70" r="1.05" fill="#f2a6c8" stroke="#e0609a" stroke-width="0.55" fill-opacity="0.8"/>
<circle cx="289.40" cy="293.50" r="1.05" fill="#f2a6c8" stroke="#e0609a" stroke-width="0.55" fill-opacity="0.8"/>
<circle cx="289.10" cy="297.90" r="1.05" fill="#f2a6c8" stroke="#e0609a" stroke-width="0.55" fill-opacity="0.8"/>
<circle cx="288.40" cy="303.60" r="1.05" fill="#f2a6c8" stroke="#e0609a" stroke-width="0.55" fill-opacity="0.8"/>
<circle cx="290.70" cy="302.10" r="1.05" fill="#f2a6c8" stroke="#e0609a" stroke-width="0.55" fill-opacity="0.8"/>
<circle cx="290.70" cy="305.60" r="1.05" fill="#f2a6c8" stroke="#e0609a" stroke-width="0.55" fill-opacity="0.8"/>
<circle cx="288.80" cy="310.90" r="1.05" fill="#f2a6c8" stroke="#e0609a" stroke-width="0.55" fill-opacity="0.8"/>
<circle cx="289.50" cy="315.50" r="1.05" fill="#f2a6c8" stroke="#e0609a" stroke-width="0.55" fill-opacity="0.8"/>
<circle cx="288.40" cy="317.00" r="1.05" fill="#f2a6c8" stroke="#e0609a" stroke-width="0.55" fill-opacity="0.8"/>
<circle cx="291.00" cy="318.20" r="1.05" fill="#f2a6c8" stroke="#e0609a" stroke-width="0.55" fill-opacity="0.8"/>
<circle cx="288.00" cy="319.70" r="1.05" fill="#f2a6c8" stroke="#e0609a" stroke-width="0.55" fill-opacity="0.8"/>
<circle cx="284.90" cy="324.30" r="1.05" fill="#f2a6c8" stroke="#e0609a" stroke-width="0.55" fill-opacity="0.8"/>
<circle cx="292.20" cy="323.90" r="1.05" fill="#f2a6c8" stroke="#e0609a" stroke-width="0.55" fill-opacity="0.8"/>
<circle cx="287.20" cy="326.60" r="1.05" fill="#f2a6c8" stroke="#e0609a" stroke-width="0.55" fill-opacity="0.8"/>
<circle cx="291.00" cy="327.70" r="1.05" fill="#f2a6c8" stroke="#e0609a" stroke-width="0.55" fill-opacity="0.8"/>
<circle cx="288.40" cy="329.60" r="1.05" fill="#f2a6c8" stroke="#e0609a" stroke-width="0.55" fill-opacity="0.8"/>
<circle cx="286.50" cy="331.20" r="1.05" fill="#f2a6c8" stroke="#e0609a" stroke-width="0.55" fill-opacity="0.8"/>
<circle cx="290.70" cy="331.60" r="1.05" fill="#f2a6c8" stroke="#e0609a" stroke-width="0.55" fill-opacity="0.8"/>
<circle cx="286.50" cy="334.60" r="1.05" fill="#f2a6c8" stroke="#e0609a" stroke-width="0.55" fill-opacity="0.8"/>
<circle cx="289.50" cy="333.50" r="1.05" fill="#f2a6c8" stroke="#e0609a" stroke-width="0.55" fill-opacity="0.8"/>
<circle cx="290.00" cy="322.50" r="1.05" fill="#f2a6c8" stroke="#e0609a" stroke-width="0.55" fill-opacity="0.8"/>
<text transform="translate(333.34,229.80) scale(0.804,1)" font-size="12.2" font-weight="bold" fill="#111" stroke="#111" stroke-width="0.3">E</text>
<line x1="365.60" y1="219.30" x2="365.60" y2="353.30" stroke="#1e1e1e" stroke-width="1.3" />
<line x1="362.80" y1="225.00" x2="365.60" y2="225.00" stroke="#222" stroke-width="1.0" />
<text x="359.00" y="227.30" font-size="6.6" fill="#333333" text-anchor="end" stroke="#333333" stroke-width="0.16">1.0</text>
<line x1="362.80" y1="256.00" x2="365.60" y2="256.00" stroke="#222" stroke-width="1.0" />
<text x="359.00" y="258.30" font-size="6.6" fill="#333333" text-anchor="end" stroke="#333333" stroke-width="0.16">0.5</text>
<line x1="362.80" y1="287.00" x2="365.60" y2="287.00" stroke="#222" stroke-width="1.0" />
<text x="359.00" y="289.30" font-size="6.6" fill="#333333" text-anchor="end" stroke="#333333" stroke-width="0.16">0.0</text>
<line x1="362.80" y1="318.00" x2="365.60" y2="318.00" stroke="#222" stroke-width="1.0" />
<text x="359.00" y="320.30" font-size="6.6" fill="#333333" text-anchor="end" stroke="#333333" stroke-width="0.16">−0.5</text>
<line x1="362.80" y1="349.00" x2="365.60" y2="349.00" stroke="#222" stroke-width="1.0" />
<text x="359.00" y="351.30" font-size="6.6" fill="#333333" text-anchor="end" stroke="#333333" stroke-width="0.16">−1.0</text>
<text transform="translate(371.50,226.80) skewX(-8)" font-size="6.7" fill="#333333" textLength="26.30" lengthAdjust="spacingAndGlyphs" stroke="#333333" stroke-width="0.16">De novo</text>
<text transform="translate(341.0,334.3) rotate(-90)" font-size="8.8" fill="#333333" textLength="94.8" lengthAdjust="spacingAndGlyphs" stroke="#333333" stroke-width="0.2">Differential gene dependency</text>
<line x1="366.50" y1="286.90" x2="500.50" y2="286.90" stroke="#b8b8b8" stroke-width="0.8" stroke-dasharray="1.6,1.6"/>
<path d="M384.8,328.3 L385.0,295.0 Q385.6,289.6 389.5,288.9 L396,288.3 L440,287.3 L475,285.6 Q484.5,285 486.2,280.5 L486.7,262" stroke="#353a48" stroke-width="1.4" fill="none" />
<path d="M386.0,296 L386.0,326" stroke="#9adccc" stroke-width="0.8" fill="none" />
<path d="M384.8,296 L384.8,328.3" stroke="#ffffff" stroke-width="1.6" fill="none" stroke-dasharray="0,3.6,0.8,0"/>
<circle cx="384.60" cy="330.80" r="0.6" fill="#333" />
<circle cx="384.60" cy="345.60" r="0.6" fill="#333" />
<circle cx="384.60" cy="351.30" r="0.6" fill="#333" />
<circle cx="486.70" cy="236.10" r="0.65" fill="#444" />
<circle cx="486.70" cy="241.80" r="0.65" fill="#444" />
<line x1="486.70" y1="248.90" x2="486.70" y2="251.80" stroke="#444" stroke-width="1.1" />
<text x="397.70" y="298.10" font-size="6.8" fill="#333333" textLength="15.20" lengthAdjust="spacingAndGlyphs" stroke="#333333" stroke-width="0.16">ATIC</text>
<line x1="396.50" y1="295.90" x2="387.50" y2="296.50" stroke="#b0a8b0" stroke-width="0.5" />
<text x="397.70" y="306.20" font-size="6.8" fill="#333333" textLength="16.40" lengthAdjust="spacingAndGlyphs" stroke="#333333" stroke-width="0.16">PPAT</text>
<line x1="396.50" y1="304.00" x2="386.00" y2="299.00" stroke="#b0a8b0" stroke-width="0.5" />
<text x="397.70" y="314.30" font-size="6.8" fill="#333333" textLength="16.20" lengthAdjust="spacingAndGlyphs" stroke="#333333" stroke-width="0.16">PFAS</text>
<line x1="396.50" y1="312.10" x2="386.00" y2="302.00" stroke="#b0a8b0" stroke-width="0.5" />
<text x="397.70" y="322.40" font-size="6.8" fill="#333333" textLength="19.40" lengthAdjust="spacingAndGlyphs" stroke="#333333" stroke-width="0.16">GMPS</text>
<line x1="396.50" y1="320.20" x2="386.00" y2="305.00" stroke="#b0a8b0" stroke-width="0.5" />
<text x="397.70" y="330.50" font-size="6.8" fill="#333333" textLength="19.40" lengthAdjust="spacingAndGlyphs" stroke="#333333" stroke-width="0.16">PAICS</text>
<line x1="396.50" y1="328.30" x2="386.00" y2="308.00" stroke="#b0a8b0" stroke-width="0.5" />
<text x="397.70" y="338.60" font-size="6.8" fill="#333333" textLength="14.60" lengthAdjust="spacingAndGlyphs" stroke="#333333" stroke-width="0.16">CAD</text>
<line x1="396.50" y1="336.40" x2="386.00" y2="311.00" stroke="#b0a8b0" stroke-width="0.5" />
<text x="397.70" y="346.70" font-size="6.8" fill="#333333" textLength="17.80" lengthAdjust="spacingAndGlyphs" stroke="#333333" stroke-width="0.16">GART</text>
<line x1="396.50" y1="344.50" x2="386.00" y2="314.00" stroke="#b0a8b0" stroke-width="0.5" />
<text x="397.70" y="354.80" font-size="6.8" fill="#333333" textLength="26.00" lengthAdjust="spacingAndGlyphs" stroke="#333333" stroke-width="0.16">DHODH</text>
<line x1="396.50" y1="352.60" x2="386.00" y2="317.00" stroke="#b0a8b0" stroke-width="0.5" />
<text x="397.70" y="362.90" font-size="6.8" fill="#333333" textLength="20.20" lengthAdjust="spacingAndGlyphs" stroke="#333333" stroke-width="0.16">CTPS1</text>
<line x1="396.50" y1="360.70" x2="386.00" y2="320.00" stroke="#b0a8b0" stroke-width="0.5" />
<text x="397.70" y="371.00" font-size="6.8" fill="#333333" textLength="19.20" lengthAdjust="spacingAndGlyphs" stroke="#333333" stroke-width="0.16">UMPS</text>
<line x1="396.50" y1="368.80" x2="386.00" y2="323.00" stroke="#b0a8b0" stroke-width="0.5" />
<text x="420.00" y="277.50" font-size="6.6" fill="#333333" textLength="19.80" lengthAdjust="spacingAndGlyphs" stroke="#333333" stroke-width="0.16">CTPS2</text>
<text x="456.20" y="277.50" font-size="6.6" fill="#333333" textLength="15.30" lengthAdjust="spacingAndGlyphs" stroke="#333333" stroke-width="0.16">CPS1</text>
<line x1="445.00" y1="280.40" x2="448.80" y2="286.20" stroke="#9ab" stroke-width="0.5" />
<line x1="475.80" y1="280.40" x2="478.70" y2="286.00" stroke="#9ab" stroke-width="0.5" />
<circle cx="448.80" cy="287.00" r="0.9" fill="#6cc" />
<circle cx="478.70" cy="286.60" r="0.9" fill="#6cc" />
<line x1="502.20" y1="279.40" x2="502.20" y2="236.00" stroke="#2b2b2b" stroke-width="1.2" />
<path d="M502.20,232.70 L504.02,236.86 L500.38,236.86 Z" fill="#2b2b2b"/>
<line x1="502.10" y1="293.90" x2="502.10" y2="337.50" stroke="#2b2b2b" stroke-width="1.2" />
<path d="M502.10,340.90 L500.28,336.74 L503.92,336.74 Z" fill="#2b2b2b"/>
<text transform="translate(506.6,246.7) rotate(90)" font-size="6.6" fill="#333333" textLength="17.9" lengthAdjust="spacingAndGlyphs" stroke="#333333" stroke-width="0.2">Other</text>
<text transform="translate(506.6,310.3) rotate(90)" font-size="6.6" fill="#333333" textLength="13.1" lengthAdjust="spacingAndGlyphs" stroke="#333333" stroke-width="0.2">AML</text>
<text transform="translate(7.69,399.00) scale(0.873,1)" font-size="12.2" font-weight="bold" fill="#111" stroke="#111" stroke-width="0.3">F</text>
<line x1="40.10" y1="406.00" x2="40.10" y2="541.00" stroke="#1e1e1e" stroke-width="1.35" />
<line x1="37.00" y1="411.90" x2="40.10" y2="411.90" stroke="#1e1e1e" stroke-width="1.1" />
<text x="33.60" y="414.20" font-size="6.6" fill="#333333" text-anchor="end" stroke="#333333" stroke-width="0.16">1.0</text>
<line x1="37.00" y1="442.75" x2="40.10" y2="442.75" stroke="#1e1e1e" stroke-width="1.1" />
<text x="33.60" y="445.05" font-size="6.6" fill="#333333" text-anchor="end" stroke="#333333" stroke-width="0.16">0.5</text>
<line x1="37.00" y1="473.60" x2="40.10" y2="473.60" stroke="#1e1e1e" stroke-width="1.1" />
<text x="33.60" y="475.90" font-size="6.6" fill="#333333" text-anchor="end" stroke="#333333" stroke-width="0.16">0.0</text>
<line x1="37.00" y1="504.45" x2="40.10" y2="504.45" stroke="#1e1e1e" stroke-width="1.1" />
<text x="33.60" y="506.75" font-size="6.6" fill="#333333" text-anchor="end" stroke="#333333" stroke-width="0.16">−0.5</text>
<line x1="37.00" y1="535.30" x2="40.10" y2="535.30" stroke="#1e1e1e" stroke-width="1.1" />
<text x="33.60" y="537.60" font-size="6.6" fill="#333333" text-anchor="end" stroke="#333333" stroke-width="0.16">−1.0</text>
<text x="45.90" y="412.90" font-size="6.7" fill="#333333" textLength="24.20" lengthAdjust="spacingAndGlyphs" stroke="#333333" stroke-width="0.16">Salvage</text>
<text transform="translate(14.6,521.0) rotate(-90)" font-size="8.8" fill="#333333" textLength="95.4" lengthAdjust="spacingAndGlyphs" stroke="#333333" stroke-width="0.2">Differential gene dependency</text>
<line x1="43.90" y1="473.80" x2="175.10" y2="473.80" stroke="#d4d4d4" stroke-width="0.8" stroke-dasharray="1.8,1.8"/>
<path d="M59.2,515.1 L59.2,484 Q59.6,477 66,475.4 L120,473.2 L152,472.2 Q159.5,471.5 160.5,465 L161.2,449" stroke="#8a8a90" stroke-width="1.4" fill="none" />
<path d="M59.2,515.1 L59.2,484 Q59.6,477 66,475.4 L120,473.2 L152,472.2 Q159.5,471.5 160.5,465 L161.2,449" stroke="#3a3a44" stroke-width="1.4" fill="none" stroke-dasharray="4,2.5,2,3"/>
<circle cx="59.30" cy="517.00" r="0.8" fill="#555" />
<circle cx="59.30" cy="531.30" r="0.8" fill="#555" />
<circle cx="59.30" cy="538.10" r="0.8" fill="#555" />
<circle cx="161.30" cy="422.60" r="0.6" fill="#333" />
<circle cx="161.30" cy="428.40" r="0.6" fill="#333" />
<circle cx="161.30" cy="437.20" r="0.6" fill="#333" />
<text x="64.20" y="423.70" font-size="6.6" fill="#333333" textLength="17.00" lengthAdjust="spacingAndGlyphs" stroke="#333333" stroke-width="0.16">UCK2</text>
<line x1="65.10" y1="428.80" x2="67.80" y2="471.20" stroke="#aab0b8" stroke-width="0.5" />
<text x="70.10" y="430.50" font-size="6.6" fill="#333333" textLength="13.80" lengthAdjust="spacingAndGlyphs" stroke="#333333" stroke-width="0.16">ADA</text>
<line x1="71.20" y1="435.00" x2="69.50" y2="471.00" stroke="#aab0b8" stroke-width="0.5" />
<text x="75.90" y="436.20" font-size="6.6" fill="#333333" textLength="10.70" lengthAdjust="spacingAndGlyphs" stroke="#333333" stroke-width="0.16">TK1</text>
<line x1="76.50" y1="440.00" x2="73.20" y2="471.00" stroke="#aab0b8" stroke-width="0.5" />
<text x="79.90" y="442.60" font-size="6.6" fill="#333333" textLength="18.40" lengthAdjust="spacingAndGlyphs" stroke="#333333" stroke-width="0.16">TYMP</text>
<line x1="80.60" y1="447.00" x2="75.20" y2="471.00" stroke="#aab0b8" stroke-width="0.5" />
<text x="83.90" y="448.80" font-size="6.6" fill="#333333" textLength="20.20" lengthAdjust="spacingAndGlyphs" stroke="#333333" stroke-width="0.16">UCKL1</text>
<line x1="83.90" y1="453.00" x2="77.20" y2="471.00" stroke="#aab0b8" stroke-width="0.5" />
<text x="89.70" y="455.10" font-size="6.6" fill="#333333" textLength="16.20" lengthAdjust="spacingAndGlyphs" stroke="#333333" stroke-width="0.16">UPP2</text>
<line x1="89.30" y1="459.00" x2="79.20" y2="471.00" stroke="#aab0b8" stroke-width="0.5" />
<text x="93.10" y="462.80" font-size="6.6" fill="#333333" textLength="23.10" lengthAdjust="spacingAndGlyphs" stroke="#333333" stroke-width="0.16">CMPK2</text>
<line x1="93.40" y1="466.00" x2="81.90" y2="472.00" stroke="#aab0b8" stroke-width="0.5" />
<text x="98.30" y="469.20" font-size="6.6" fill="#333333" textLength="13.90" lengthAdjust="spacingAndGlyphs" stroke="#333333" stroke-width="0.16">DCK</text>
<line x1="98.10" y1="471.50" x2="84.00" y2="473.00" stroke="#aab0b8" stroke-width="0.5" />
<text x="111.00" y="426.40" font-size="6.6" fill="#333333" textLength="19.30" lengthAdjust="spacingAndGlyphs" stroke="#333333" stroke-width="0.16">GMPR</text>
<line x1="112.80" y1="428.80" x2="120.90" y2="471.90" stroke="#aab0b8" stroke-width="0.5" />
<text x="117.80" y="432.20" font-size="6.6" fill="#333333" textLength="16.50" lengthAdjust="spacingAndGlyphs" stroke="#333333" stroke-width="0.16">UCK1</text>
<line x1="119.50" y1="434.50" x2="122.90" y2="471.90" stroke="#aab0b8" stroke-width="0.5" />
<text x="121.80" y="438.50" font-size="6.6" fill="#333333" textLength="16.20" lengthAdjust="spacingAndGlyphs" stroke="#333333" stroke-width="0.16">UPP1</text>
<line x1="122.90" y1="440.00" x2="124.20" y2="471.90" stroke="#aab0b8" stroke-width="0.5" />
<text x="126.20" y="444.30" font-size="6.6" fill="#333333" textLength="13.90" lengthAdjust="spacingAndGlyphs" stroke="#333333" stroke-width="0.16">CDA</text>
<line x1="127.60" y1="446.00" x2="124.90" y2="471.90" stroke="#aab0b8" stroke-width="0.5" />
<text x="131.60" y="450.40" font-size="6.6" fill="#333333" textLength="19.90" lengthAdjust="spacingAndGlyphs" stroke="#333333" stroke-width="0.16">HPRT1</text>
<line x1="131.60" y1="452.00" x2="127.60" y2="471.90" stroke="#aab0b8" stroke-width="0.5" />
<text x="134.70" y="456.40" font-size="6.6" fill="#333333" textLength="16.70" lengthAdjust="spacingAndGlyphs" stroke="#333333" stroke-width="0.16">UPRT</text>
<line x1="135.00" y1="458.50" x2="128.90" y2="471.90" stroke="#aab0b8" stroke-width="0.5" />
<text x="134.70" y="465.20" font-size="6.6" fill="#333333" textLength="24.50" lengthAdjust="spacingAndGlyphs" stroke="#333333" stroke-width="0.16">DGUOK</text>
<line x1="144.40" y1="467.20" x2="146.40" y2="471.90" stroke="#aab0b8" stroke-width="0.5" />
<text x="65.50" y="488.50" font-size="6.6" fill="#333333" textLength="16.80" lengthAdjust="spacingAndGlyphs" stroke="#333333" stroke-width="0.16">APRT</text>
<line x1="65.00" y1="480.30" x2="62.90" y2="478.20" stroke="#aab0b8" stroke-width="0.5" />
<text x="109.30" y="481.80" font-size="6.6" fill="#333333" textLength="17.50" lengthAdjust="spacingAndGlyphs" stroke="#333333" stroke-width="0.16">ADAL</text>
<line x1="108.60" y1="478.50" x2="104.60" y2="476.00" stroke="#aab0b8" stroke-width="0.5" />
<text x="106.60" y="488.20" font-size="6.6" fill="#333333" textLength="23.60" lengthAdjust="spacingAndGlyphs" stroke="#333333" stroke-width="0.16">AMPD3</text>
<line x1="106.60" y1="483.20" x2="103.30" y2="476.00" stroke="#aab0b8" stroke-width="0.5" />
<text x="104.90" y="494.90" font-size="6.6" fill="#333333" textLength="14.20" lengthAdjust="spacingAndGlyphs" stroke="#333333" stroke-width="0.16">ADK</text>
<line x1="105.30" y1="489.50" x2="101.90" y2="476.00" stroke="#aab0b8" stroke-width="0.5" />
<text x="100.30" y="503.00" font-size="6.6" fill="#333333" textLength="12.80" lengthAdjust="spacingAndGlyphs" stroke="#333333" stroke-width="0.16">PNP</text>
<line x1="100.60" y1="496.00" x2="95.20" y2="476.00" stroke="#aab0b8" stroke-width="0.5" />
<text x="94.10" y="510.30" font-size="6.6" fill="#333333" textLength="23.70" lengthAdjust="spacingAndGlyphs" stroke="#333333" stroke-width="0.16">GMPR2</text>
<line x1="95.90" y1="503.40" x2="91.80" y2="476.00" stroke="#aab0b8" stroke-width="0.5" />
<text x="83.10" y="516.70" font-size="6.6" fill="#333333" textLength="22.60" lengthAdjust="spacingAndGlyphs" stroke="#333333" stroke-width="0.16">CMPK1</text>
<line x1="87.40" y1="508.00" x2="87.40" y2="476.40" stroke="#aab0b8" stroke-width="0.5" />
<text x="133.30" y="511.20" font-size="6.6" fill="#333333" textLength="11.00" lengthAdjust="spacingAndGlyphs" stroke="#333333" stroke-width="0.16">TK2</text>
<line x1="133.80" y1="503.40" x2="133.80" y2="476.00" stroke="#aab0b8" stroke-width="0.5" />
<text x="148.40" y="490.60" font-size="6.6" fill="#333333" textLength="22.60" lengthAdjust="spacingAndGlyphs" stroke="#333333" stroke-width="0.16">AMPD2</text>
<line x1="151.10" y1="486.00" x2="154.80" y2="473.00" stroke="#aab0b8" stroke-width="0.5" />
<text x="142.40" y="496.60" font-size="6.6" fill="#333333" textLength="22.70" lengthAdjust="spacingAndGlyphs" stroke="#333333" stroke-width="0.16">AMPD1</text>
<line x1="145.90" y1="491.60" x2="150.00" y2="473.00" stroke="#aab0b8" stroke-width="0.5" />
<line x1="176.90" y1="466.30" x2="176.90" y2="423.00" stroke="#2b2b2b" stroke-width="1.2" />
<path d="M176.90,419.70 L178.72,423.86 L175.08,423.86 Z" fill="#2b2b2b"/>
<line x1="177.00" y1="480.30" x2="177.00" y2="524.00" stroke="#2b2b2b" stroke-width="1.2" />
<path d="M177.00,527.50 L175.18,523.34 L178.82,523.34 Z" fill="#2b2b2b"/>
<text transform="translate(181.2,434.3) rotate(90)" font-size="6.6" fill="#333333" textLength="17.4" lengthAdjust="spacingAndGlyphs" stroke="#333333" stroke-width="0.2">Other</text>
<text transform="translate(181.2,497.3) rotate(90)" font-size="6.6" fill="#333333" textLength="14.6" lengthAdjust="spacingAndGlyphs" stroke="#333333" stroke-width="0.2">AML</text>
<text transform="translate(204.33,399.20) scale(0.947,1)" font-size="12.2" font-weight="bold" fill="#111" stroke="#111" stroke-width="0.3">G</text>
<line x1="284.80" y1="411.80" x2="284.80" y2="515.20" stroke="#1e1e1e" stroke-width="1.35" />
<line x1="207.80" y1="514.60" x2="362.20" y2="514.60" stroke="#1e1e1e" stroke-width="1.4" />
<line x1="282.00" y1="494.75" x2="284.80" y2="494.75" stroke="#2b2b2b" stroke-width="1.0" />
<text x="279.00" y="497.05" font-size="6.6" fill="#333333" text-anchor="end" stroke="#333333" stroke-width="0.16">5</text>
<line x1="282.00" y1="474.90" x2="284.80" y2="474.90" stroke="#2b2b2b" stroke-width="1.0" />
<text x="279.00" y="477.20" font-size="6.6" fill="#333333" text-anchor="end" stroke="#333333" stroke-width="0.16">10</text>
<line x1="282.00" y1="455.05" x2="284.80" y2="455.05" stroke="#2b2b2b" stroke-width="1.0" />
<text x="279.00" y="457.35" font-size="6.6" fill="#333333" text-anchor="end" stroke="#333333" stroke-width="0.16">15</text>
<line x1="282.00" y1="435.20" x2="284.80" y2="435.20" stroke="#2b2b2b" stroke-width="1.0" />
<text x="279.00" y="437.50" font-size="6.6" fill="#333333" text-anchor="end" stroke="#333333" stroke-width="0.16">20</text>
<line x1="282.00" y1="415.35" x2="284.80" y2="415.35" stroke="#2b2b2b" stroke-width="1.0" />
<text x="279.00" y="417.65" font-size="6.6" fill="#333333" text-anchor="end" stroke="#333333" stroke-width="0.16">25</text>
<line x1="210.40" y1="514.60" x2="210.40" y2="517.40" stroke="#2b2b2b" stroke-width="1.0" />
<text x="210.40" y="526.60" font-size="6.6" fill="#333333" text-anchor="middle" stroke="#333333" stroke-width="0.16">−0.4</text>
<line x1="247.60" y1="514.60" x2="247.60" y2="517.40" stroke="#2b2b2b" stroke-width="1.0" />
<text x="247.60" y="526.60" font-size="6.6" fill="#333333" text-anchor="middle" stroke="#333333" stroke-width="0.16">−0.2</text>
<line x1="284.80" y1="514.60" x2="284.80" y2="517.40" stroke="#2b2b2b" stroke-width="1.0" />
<text x="284.80" y="526.60" font-size="6.6" fill="#333333" text-anchor="middle" stroke="#333333" stroke-width="0.16">0.0</text>
<line x1="322.00" y1="514.60" x2="322.00" y2="517.40" stroke="#2b2b2b" stroke-width="1.0" />
<text x="322.00" y="526.60" font-size="6.6" fill="#333333" text-anchor="middle" stroke="#333333" stroke-width="0.16">0.2</text>
<line x1="359.20" y1="514.60" x2="359.20" y2="517.40" stroke="#2b2b2b" stroke-width="1.0" />
<text x="359.20" y="526.60" font-size="6.6" fill="#333333" text-anchor="middle" stroke="#333333" stroke-width="0.16">0.4</text>
<text x="223.4" y="540.0" font-size="9.4" fill="#333333" textLength="123.2" lengthAdjust="spacingAndGlyphs" stroke="#333333" stroke-width="0.2">Correlation with <tspan font-style="italic">OGDH</tspan> dependency (<tspan font-style="italic">r</tspan>)</text>
<text transform="translate(296.8,487.4) rotate(-90)" font-size="8.2" fill="#333333" textLength="48.4" lengthAdjust="spacingAndGlyphs" stroke="#333333" stroke-width="0.2">-log<tspan font-size="5.5" dy="1.8">10</tspan><tspan dy="-1.8">(</tspan><tspan font-style="italic">P</tspan>-value)</text>
<path d="M228.20,457.50 C229.00,459.08 231.32,463.77 233.00,467.00 C234.68,470.23 236.38,473.73 238.30,476.90 C240.22,480.07 242.43,483.17 244.50,486.00 C246.57,488.83 248.45,491.43 250.70,493.90 C252.95,496.37 255.42,498.73 258.00,500.80 C260.58,502.87 263.62,504.72 266.20,506.30 C268.78,507.88 271.18,509.13 273.50,510.30 C275.82,511.47 278.22,512.58 280.10,513.30 C281.98,514.02 284.02,514.38 284.80,514.60" stroke="#707070" stroke-width="1.1" fill="none" stroke-dasharray="3,0.6"/>
<path d="M284.80,514.60 C285.92,514.22 289.42,513.07 291.50,512.30 C293.58,511.53 295.37,510.87 297.30,510.00 C299.23,509.13 301.18,508.25 303.10,507.10 C305.02,505.95 306.88,504.63 308.80,503.10 C310.72,501.57 312.67,499.83 314.60,497.90 C316.53,495.97 318.38,494.10 320.40,491.50 C322.42,488.90 325.65,483.83 326.70,482.30" stroke="#606060" stroke-width="1.1" fill="none" />
<circle cx="220.90" cy="442.00" r="0.7" fill="#888" />
<circle cx="225.10" cy="451.70" r="0.8" fill="#777" />
<circle cx="329.80" cy="478.60" r="0.7" fill="#888" />
<circle cx="333.60" cy="472.20" r="0.7" fill="#888" />
<circle cx="356.50" cy="423.50" r="1.25" fill="#e0903a" />
<circle cx="351.30" cy="436.60" r="1.25" fill="#b01828" />
<circle cx="347.80" cy="444.60" r="1.25" fill="#ee9650" />
<circle cx="336.60" cy="467.30" r="1.25" fill="#b01828" />
<text x="336.80" y="428.60" font-size="6.9" fill="#333333" textLength="15.00" lengthAdjust="spacingAndGlyphs" stroke="#333333" stroke-width="0.16">UMP</text>
<text x="330.20" y="438.90" font-size="6.9" fill="#333333" textLength="15.20" lengthAdjust="spacingAndGlyphs" stroke="#333333" stroke-width="0.16">AMP</text>
<text x="327.00" y="447.60" font-size="6.9" fill="#333333" textLength="15.00" lengthAdjust="spacingAndGlyphs" stroke="#333333" stroke-width="0.16">CMP</text>
<text x="315.50" y="468.70" font-size="6.9" fill="#333333" textLength="15.50" lengthAdjust="spacingAndGlyphs" stroke="#333333" stroke-width="0.16">GMP</text>
</svg>
</body></html>
